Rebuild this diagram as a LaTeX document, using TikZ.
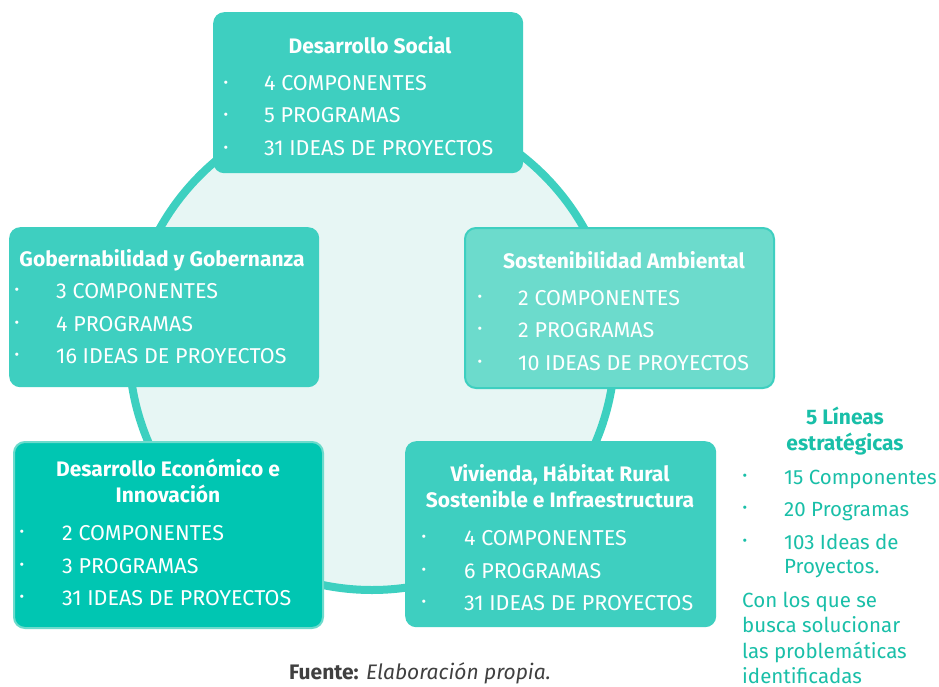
\documentclass[tikz,border=0pt]{standalone}
\usepackage{fontspec}
\setmainfont{Fira Sans}
\definecolor{boxA}{HTML}{3ECFC0}
\definecolor{boxB}{HTML}{6CDBCC}
\definecolor{boxC}{HTML}{00C6B2}
\definecolor{ringc}{HTML}{3DD0C0}
\definecolor{inner}{HTML}{E7F6F4}
\definecolor{tealtxt}{HTML}{19BFA8}
\definecolor{graytxt}{HTML}{404040}
\tikzset{
  box/.style={rounded corners=11pt, anchor=north west, inner sep=0pt},
  ttl/.style={font=\fontsize{21}{26}\selectfont\bfseries, text=white, align=center, inner sep=0pt},
  itm/.style={font=\fontsize{21.5}{26}\selectfont, text=white, anchor=base west, inner sep=0pt},
  bul/.style={font=\fontsize{14}{16}\selectfont, text=white, anchor=center, inner sep=0pt},
  sidet/.style={font=\fontsize{20.5}{24}\selectfont, text=tealtxt, anchor=base west, inner sep=0pt},
}
\begin{document}
\begin{tikzpicture}[x=1pt,y=-1pt]
\useasboundingbox (0,0) rectangle (939,687);
\fill[white] (0,0) rectangle (939,687);
\draw[line width=8pt, ringc, fill=inner] (372,347) circle (243);
% boxes
\node[box, fill=boxA, minimum width=310pt, minimum height=161pt] (b1) at (213,12) {};
\node[box, fill=boxA, minimum width=310pt, minimum height=160pt] (b2) at (9,227) {};
\node[box, fill=boxB, draw=boxA, line width=2pt, minimum width=309pt, minimum height=160pt] (b3) at (464,227) {};
\node[box, fill=boxC, draw=boxB, line width=2pt, minimum width=309pt, minimum height=186pt] (b4) at (13,441) {};
\node[box, fill=boxA, minimum width=311pt, minimum height=186pt] (b5) at (405,441) {};
% box 1
\node[ttl] (t1) at (370,45) {Desarrollo Social};
\node[bul] (u11) at (226,84) {•};
\node[bul] (u12) at (226,116) {•};
\node[bul] (u13) at (226,149) {•};
\node[itm] (i11) at (264,91) {4 COMPONENTES};
\node[itm] (i12) at (264,123) {5 PROGRAMAS};
\node[itm] (i13) at (264,156) {31 IDEAS DE PROYECTOS};
% box 2
\node[ttl] (t2) at (162,260) {Gobernabilidad y Gobernanza};
\node[bul] (u21) at (17,291) {•};
\node[bul] (u22) at (17,324) {•};
\node[bul] (u23) at (17,356) {•};
\node[itm] (i21) at (56,298) {3 COMPONENTES};
\node[itm] (i22) at (56,331) {4 PROGRAMAS};
\node[itm] (i23) at (56,363) {16 IDEAS DE PROYECTOS};
% box 3
\node[ttl] (t3) at (624,260) {Sostenibilidad Ambiental};
\node[bul] (u31) at (480,298) {•};
\node[bul] (u32) at (480,330) {•};
\node[bul] (u33) at (480,363) {•};
\node[itm] (i31) at (518,305) {2 COMPONENTES};
\node[itm] (i32) at (518,337) {2 PROGRAMAS};
\node[itm] (i33) at (518,370) {10 IDEAS DE PROYECTOS};
% box 4
\node[ttl] (t4) at (168,481) {Desarrollo Económico e\\Innovación};
\node[bul] (u41) at (22,533) {•};
\node[bul] (u42) at (22,566) {•};
\node[bul] (u43) at (22,598) {•};
\node[itm] (i41) at (62,540) {2 COMPONENTES};
\node[itm] (i42) at (62,573) {3 PROGRAMAS};
\node[itm] (i43) at (62,605) {31 IDEAS DE PROYECTOS};
% box 5
\node[ttl] (t5) at (560,486) {Vivienda, Hábitat Rural\\Sostenible e Infraestructura};
\node[bul] (u51) at (424,538) {•};
\node[bul] (u52) at (424,571) {•};
\node[bul] (u53) at (424,603) {•};
\node[itm] (i51) at (464,545) {4 COMPONENTES};
\node[itm] (i52) at (464,578) {6 PROGRAMAS};
\node[itm] (i53) at (464,610) {31 IDEAS DE PROYECTOS};
% side summary
\node[ttl, text=tealtxt] (s0) at (845,431) {5 Líneas\\estratégicas};
\node[bul, text=tealtxt] (su1) at (745,477) {•};
\node[bul, text=tealtxt] (su2) at (745,509) {•};
\node[bul, text=tealtxt] (su3) at (745,542) {•};
\node[sidet] (s1) at (784,484) {15 Componentes};
\node[sidet] (s2) at (784,516) {20 Programas};
\node[sidet] (s3) at (784,549) {103 Ideas de};
\node[sidet] (s4) at (784,573) {Proyectos.};
\node[sidet] (s5) at (742,607) {Con los que se};
\node[sidet] (s6) at (742,632) {busca solucionar};
\node[sidet] (s7) at (742,658) {las problemáticas};
\node[sidet] (s8) at (742,683) {identificadas};
% source
\node[font=\fontsize{21}{24}\selectfont, text=graytxt, inner sep=0pt] (src) at (420,673) {\textbf{Fuente:} \textit{Elaboración propia.}};
\end{tikzpicture}
\end{document}
